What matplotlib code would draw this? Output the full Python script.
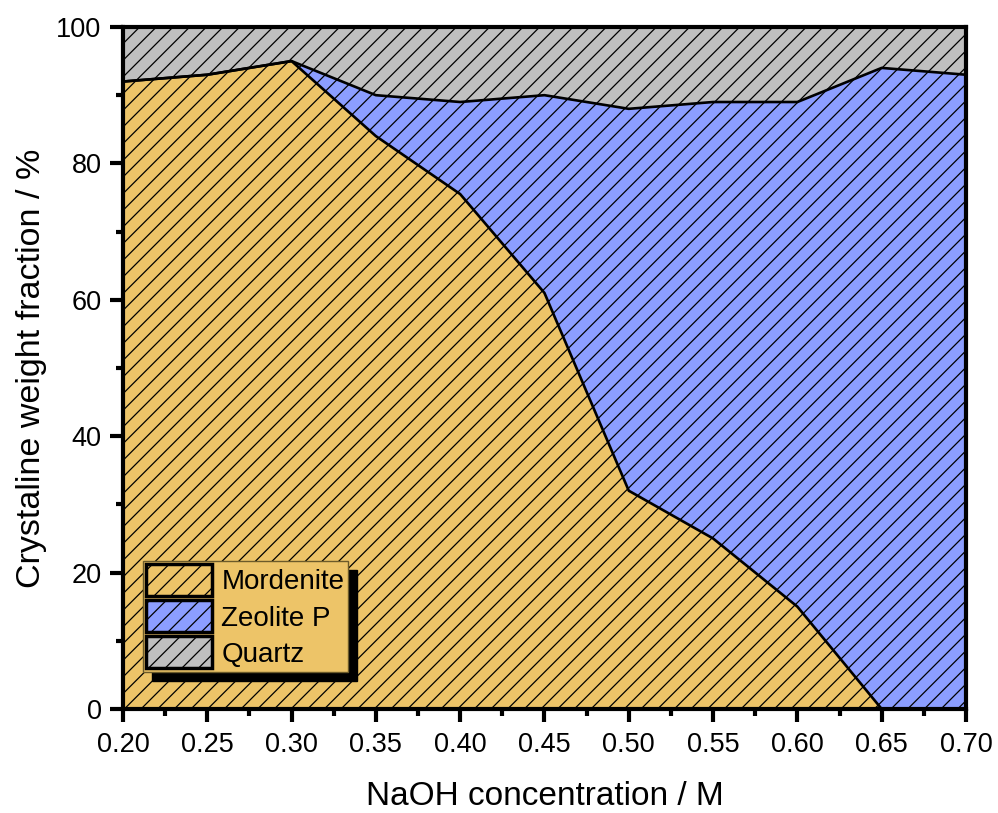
import matplotlib
matplotlib.use("Agg")
import matplotlib.pyplot as plt
from matplotlib.patches import Patch
from matplotlib.ticker import MultipleLocator, FormatStrFormatter
import numpy as np

# NaOH concentration (M)
naoh = [0.20, 0.25, 0.30, 0.35, 0.40, 0.45, 0.50, 0.55, 0.60, 0.65, 0.70]
# crystalline weight fractions (%)
mordenite = [92.0, 93.0, 95.0, 84.0, 75.5, 61.0, 32.0, 25.0, 15.0, 0.0, 0.0]
zeolite_p = [0.0, 0.0, 0.0, 6.0, 13.5, 29.0, 56.0, 64.0, 74.0, 94.0, 93.0]
quartz = [8.0, 7.0, 5.0, 10.0, 11.0, 10.0, 12.0, 11.0, 11.0, 6.0, 7.0]

phases = ["Mordenite", "Zeolite P", "Quartz"]
colors = ["#EDC468", "#8C9EFF", "#C0C0C0"]

plt.rcParams["font.family"] = ["Liberation Sans", "DejaVu Sans"]
plt.rcParams["hatch.linewidth"] = 0.9
plt.rcParams["hatch.color"] = "black"

fig = plt.figure(figsize=(9.98, 8.13), dpi=100)
ax = fig.add_axes([0.1232, 0.128, 0.8447, 0.8388])

x = np.array(naoh)
layers = [np.array(mordenite), np.array(zeolite_p), np.array(quartz)]
base = np.zeros_like(x)
tops = []
for vals, c in zip(layers, colors):
    top = base + vals
    ax.fill_between(x, base, top, facecolor=c, edgecolor="black",
                    linewidth=0, hatch="//", zorder=1)
    tops.append(top)
    base = top

# boundary lines between stacked phases
for top in tops[:2]:
    ax.plot(x, top, color="black", lw=1.9, zorder=3, solid_joinstyle="round")

ax.set_xlim(0.20, 0.70)
ax.set_ylim(0, 100)
ax.xaxis.set_major_locator(MultipleLocator(0.05))
ax.xaxis.set_minor_locator(MultipleLocator(0.025))
ax.xaxis.set_major_formatter(FormatStrFormatter("%.2f"))
ax.yaxis.set_major_locator(MultipleLocator(20))
ax.yaxis.set_minor_locator(MultipleLocator(10))

for sp in ax.spines.values():
    sp.set_linewidth(3.0)
    sp.set_zorder(5)
ax.tick_params(which="major", direction="out", length=9.4, width=3.0,
               labelsize=19.5)
ax.tick_params(which="minor", direction="out", length=4.7, width=3.0)
ax.tick_params(axis="x", which="major", pad=7)
ax.tick_params(axis="y", which="major", pad=6)

ax.set_xlabel("NaOH concentration / M", fontsize=24, labelpad=17)
ax.set_ylabel("Crystaline weight fraction / %", fontsize=24.5, labelpad=7)

handles = [Patch(facecolor=c, edgecolor="black", hatch="//", linewidth=2.5)
           for c in colors]
leg = ax.legend(handles, phases, loc="lower left",
                bbox_to_anchor=(0.0234, 0.0547), borderaxespad=0,
                fontsize=20, handlelength=2.38, handleheight=1.39,
                labelspacing=0.15, borderpad=0.12, handletextpad=0.33,
                fancybox=False, framealpha=1, facecolor=colors[0],
                edgecolor="#6b5a2a",
                shadow={"ox": 6.5, "oy": -6.5, "color": "black", "alpha": 1})
leg.get_frame().set_linewidth(1.0)
leg.set_zorder(6)

fig.savefig("out.png", dpi=100)
